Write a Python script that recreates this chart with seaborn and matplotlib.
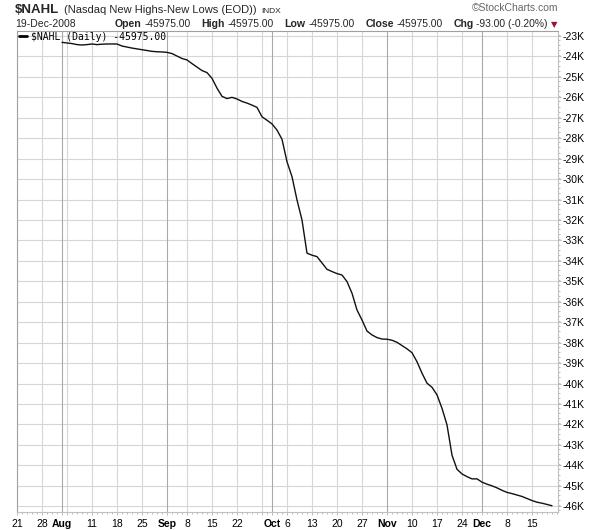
import numpy as np
import pandas as pd
import matplotlib
matplotlib.use("Agg")
import matplotlib.pyplot as plt
import seaborn as sns

# ---------------- data ----------------
holidays = ["2008-09-01", "2008-11-27"]
axis_start = "2008-07-21"
axis_end = "2008-12-19"
series_start = "2008-08-01"

# $NAHL daily values in thousands, Aug 1 .. Dec 19 2008
nahl_k = [
    -23.31, -23.34, -23.37, -23.42, -23.44, -23.42, -23.39, -23.42, -23.40, -23.39,
    -23.39, -23.39, -23.49, -23.54, -23.59, -23.63, -23.67, -23.71, -23.75, -23.77,
    -23.78, -23.80, -23.86, -23.98, -24.10, -24.17, -24.35, -24.52, -24.69, -24.79,
    -25.07, -25.55, -25.95, -26.06, -26.00, -26.08, -26.20, -26.28, -26.38, -26.49,
    -26.95, -27.12, -27.30, -27.60, -28.05, -29.15, -29.88, -31.02, -32.00, -33.62,
    -33.72, -33.79, -34.10, -34.41, -34.52, -34.62, -34.69, -35.01, -35.58, -36.40,
    -36.89, -37.43, -37.62, -37.75, -37.82, -37.83, -37.88, -37.98, -38.14, -38.30,
    -38.49, -38.93, -39.49, -39.98, -40.18, -40.55, -41.21, -42.02, -43.50, -44.19,
    -44.42, -44.55, -44.66, -44.66, -44.82, -44.92, -45.00, -45.10, -45.22, -45.32,
    -45.38, -45.45, -45.52, -45.62, -45.72, -45.80, -45.85, -45.91, -45.975,
]

tick_dates = ["2008-07-21", "2008-07-28", "2008-08-01", "2008-08-04", "2008-08-11",
              "2008-08-18", "2008-08-25", "2008-09-02", "2008-09-08", "2008-09-15",
              "2008-09-22", "2008-09-29", "2008-10-01", "2008-10-06", "2008-10-13",
              "2008-10-20", "2008-10-27", "2008-11-03", "2008-11-10", "2008-11-17",
              "2008-11-24", "2008-12-01", "2008-12-08", "2008-12-15"]
tick_labels = ["21", "28", "Aug", "", "11", "18", "25", "Sep", "8", "15", "22", "",
               "Oct", "6", "13", "20", "27", "Nov", "10", "17", "24", "Dec", "8", "15"]
month_labels = ["Aug", "Sep", "Oct", "Nov", "Dec"]
month_tick_dates = ["2008-08-01", "2008-09-02", "2008-10-01", "2008-11-03", "2008-12-01"]

y_ticks_k = list(range(-23, -47, -1))

quote_labels = ["Open", "High", "Low", "Close", "Chg"]
quote_values = ["-45975.00", "-45975.00", "-45975.00", "-45975.00", "-93.00 (-0.20%)"]

# ---------------- build frame ----------------
trading_days = pd.bdate_range(axis_start, axis_end)
trading_days = trading_days[~trading_days.isin(pd.to_datetime(holidays))]
dates = trading_days[trading_days >= pd.Timestamp(series_start)]
df = pd.DataFrame({"date": dates, "value": np.array(nahl_k) * 1000})
df["idx"] = trading_days.get_indexer(df["date"])
tick_pos = trading_days.get_indexer(pd.to_datetime(tick_dates))
month_pos = set(trading_days.get_indexer(pd.to_datetime(month_tick_dates)))

# ---------------- figure ----------------
sns.set_theme(style="white")
plt.rcParams["font.family"] = ["Liberation Sans", "DejaVu Sans"]

W, H = 600, 530
fig = plt.figure(figsize=(W / 100, H / 100), dpi=100)
fig.patch.set_facecolor("white")
L, R, T, B = 17, 558, 31, 512
ax = fig.add_axes([L / W, 1 - B / H, (R - L) / W, (B - T) / H])
ax.set_facecolor("white")

sns.lineplot(data=df, x="idx", y="value", ax=ax, color="#111111", lw=1.0)

ax.set_xlim(0, (R - L) / 5.0)
ax.set_ylim(-46280, -22755)

# grid lines
for v in y_ticks_k:
    ax.axhline(v * 1000, color="#d6d6d6", lw=0.8, zorder=0)
for p in tick_pos:
    col = "#a9a9a9" if p in month_pos else "#d6d6d6"
    ax.axvline(p, color=col, lw=0.8, zorder=0)

# x ticks
ax.set_xticks(tick_pos)
ax.set_xticklabels(tick_labels)
for lab in ax.get_xticklabels():
    if lab.get_text() in month_labels:
        lab.set_fontweight("bold")
ax.set_xticks(np.arange(0, len(trading_days) + 1), minor=True)
ax.tick_params(axis="x", which="major", length=2, width=0.6, color="#b0b0b0",
               labelsize=7.5, pad=3, labelcolor="black", bottom=True)
ax.tick_params(axis="x", which="minor", length=1.5, width=0.6, color="#b0b0b0", bottom=True)

# y ticks on right
ax.yaxis.tick_right()
ax.set_yticks([v * 1000 for v in y_ticks_k])
ax.set_yticklabels([f"{v}K" for v in y_ticks_k])
ax.set_yticks(np.arange(-46200, -22700, 250), minor=True)
ax.tick_params(axis="y", which="major", length=2, width=0.6, color="#b0b0b0",
               labelsize=7.5, pad=1.5, labelcolor="black", right=True, left=False)
ax.tick_params(axis="y", which="minor", length=1.5, width=0.6, color="#b0b0b0",
               right=True, left=False)
ax.set_xlabel("")
ax.set_ylabel("")

for s in ["top", "left"]:
    ax.spines[s].set_color("#a0a0a0")
    ax.spines[s].set_linewidth(0.8)
for s in ["bottom", "right"]:
    ax.spines[s].set_color("#c0c0c0")
    ax.spines[s].set_linewidth(0.8)

renderer = fig.canvas.get_renderer()


def px(x, y):
    return x / W, 1 - y / H


def flow(items, x0, y):
    """items: (text, kwargs, gap_after_px)"""
    x = x0
    for text, kw, gap in items:
        t = fig.text(*px(x, y), text, va="baseline", **kw)
        x += t.get_window_extent(renderer).width + gap
    return x


# header line 1
flow([("$NAHL", dict(fontsize=9.5, fontweight="bold"), 5),
      ("(Nasdaq New Highs-New Lows (EOD))", dict(fontsize=8.0), 4),
      ("INDX", dict(fontsize=6), 0)], 15, 13)
fig.text(*px(558, 11), "\u00a9StockCharts.com", fontsize=7.5, color="#666666",
         va="baseline", ha="right")

# header line 2
fig.text(*px(15, 27), "19-Dec-2008", fontsize=7.5, va="baseline")
items = []
for i, (lab, val) in enumerate(zip(quote_labels, quote_values)):
    items.append((lab, dict(fontsize=7.6, fontweight="bold"), 2.5))
    items.append((val, dict(fontsize=7.4), 11 if i < len(quote_labels) - 1 else 0))
x_end = flow(items, 115, 27)
fig.text(*px(x_end + 3, 27), "\u25bc", fontsize=6, color="#8b1a3a", va="baseline",
         family=["DejaVu Sans"])

# legend inside plot
fig.add_artist(plt.Line2D([19 / W, 27 / W], [1 - 36 / H, 1 - 36 / H], color="black", lw=2))
fig.text(*px(31, 39.5), "$NAHL (Daily) -45975.00", fontsize=7, va="baseline",
         family=["DejaVu Sans Mono"], color="black")

fig.savefig("out.png", dpi=100)
